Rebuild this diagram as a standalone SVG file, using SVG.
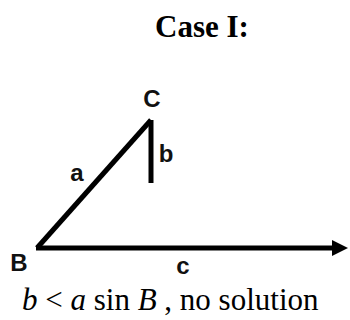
<svg xmlns="http://www.w3.org/2000/svg" width="350" height="320" viewBox="0 0 350 320">
<style>
.lbl{font-family:"Liberation Sans",Arial,sans-serif;font-weight:bold;font-size:24px;fill:#111}
.ttl{font-family:"Liberation Serif","Times New Roman",serif;font-weight:bold;font-size:31px;fill:#000}
.eq{font-family:"Liberation Serif","Times New Roman",serif;font-size:31px;fill:#000}
.it{font-style:italic}
.ln{stroke:#000;stroke-width:5;fill:none;stroke-linecap:butt}
</style>
<defs>
<marker id="ah" markerUnits="userSpaceOnUse" markerWidth="16" markerHeight="16" refX="0" refY="8" orient="auto">
<path d="M0,0 L16,8 L0,16 Z" fill="#000"/>
</marker>
</defs>
<rect width="350" height="320" fill="#fff"/>
<g id="title"><text class="ttl" x="202" y="37" text-anchor="middle">Case I:</text></g>
<g id="connectors">
<line class="ln" x1="37" y1="248" x2="151" y2="120"/>
<line class="ln" x1="151" y1="120" x2="151" y2="183"/>
<line class="ln" x1="36" y1="248" x2="332" y2="248" marker-end="url(#ah)"/>
</g>
<g id="node-C"><text class="lbl" x="152" y="107" text-anchor="middle">C</text></g>
<g id="node-B"><text class="lbl" x="19" y="271" text-anchor="middle">B</text></g>
<g id="label-a"><text class="lbl" x="77" y="181" text-anchor="middle">a</text></g>
<g id="label-b"><text class="lbl" x="166" y="162" text-anchor="middle">b</text></g>
<g id="label-c"><text class="lbl" x="183" y="274" text-anchor="middle">c</text></g>
<g id="caption"><text class="eq" x="22" y="310"><tspan class="it">b</tspan> &lt; <tspan class="it">a</tspan> sin <tspan class="it">B</tspan> , no solution</text></g>
</svg>
